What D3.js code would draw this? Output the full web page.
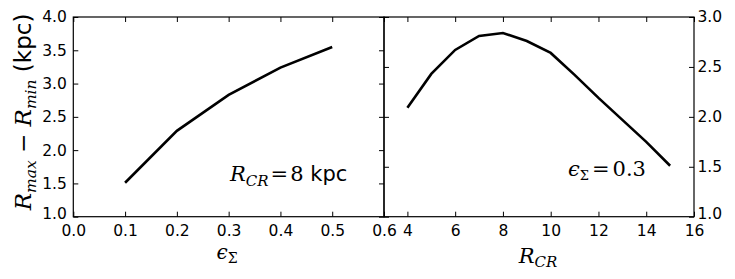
<!DOCTYPE html>
<html><head><meta charset="utf-8">
<script src="https://cdn.jsdelivr.net/npm/d3@7"></script>
<style>body{margin:0;background:#fff}</style>
</head><body>
<svg id="c" width="735" height="279"></svg>
<script>
const epsVals = [0.1, 0.2, 0.3, 0.4, 0.5];
const widthVsEps = [1.51, 2.29, 2.83, 3.24, 3.55];
const rcrVals = [4, 5, 6, 7, 8, 9, 10, 11, 12, 13, 14, 15];
const widthVsRcr = [2.09, 2.43, 2.67, 2.81, 2.84, 2.76, 2.64, 2.42, 2.19, 1.97, 1.75, 1.51];
const leftXTicks = [0.0, 0.1, 0.2, 0.3, 0.4, 0.5, 0.6];
const leftYTicks = [1.0, 1.5, 2.0, 2.5, 3.0, 3.5, 4.0];
const rightXTicks = [4, 6, 8, 10, 12, 14, 16];
const rightYTicks = [1.0, 1.5, 2.0, 2.5, 3.0];

const svg = d3.select("#c");
const plotTop = 17, plotBottom = 216.7;
const L = {x0: 73.3, x1: 384};
const R = {x0: 384, x1: 694};
const tickFont = "DejaVu Sans, sans-serif";
const serif = "DejaVu Serif, serif";

function panel(p, xd, yd, xs, ys, xticks, yticks, yside) {
  const x = d3.scaleLinear().domain(xd).range([p.x0, p.x1]);
  const y = d3.scaleLinear().domain(yd).range([plotBottom, plotTop]);
  const g = svg.append("g");
  const tl = 5;
  const ax = d3.axisBottom(x).tickValues(xticks).tickSizeInner(-tl).tickSizeOuter(0).tickPadding(8.5)
    .tickFormat(xs);
  const gx = g.append("g").attr("transform", `translate(0,${plotBottom})`).call(ax);
  const gt = g.append("g").attr("transform", `translate(0,${plotTop})`)
    .call(d3.axisTop(x).tickValues(xticks).tickSizeInner(-tl).tickSizeOuter(0).tickFormat(""));
  const yl = d3.axisLeft(y).tickValues(yticks).tickSizeInner(-tl).tickSizeOuter(0).tickPadding(6.5).tickFormat(yside === "left" ? ys : "");
  const yr = d3.axisRight(y).tickValues(yticks).tickSizeInner(-tl).tickSizeOuter(0).tickPadding(3.5).tickFormat(yside === "right" ? ys : "");
  const gl = g.append("g").attr("transform", `translate(${p.x0},0)`).call(yl);
  const gr = g.append("g").attr("transform", `translate(${p.x1},0)`).call(yr);
  [gx, gt, gl, gr].forEach(a => {
    a.select(".domain").remove();
    a.selectAll("line").attr("stroke", "#000").attr("stroke-width", 1);
    a.selectAll("text").attr("font-family", tickFont).attr("font-size", 15.5).attr("fill", "#000");
  });
  g.append("rect").attr("x", p.x0).attr("y", plotTop).attr("width", p.x1 - p.x0).attr("height", plotBottom - plotTop)
    .attr("fill", "none").attr("stroke", "#000").attr("stroke-width", 1.2);
  return {x, y, g, gx, gl, gr};
}

const lp = panel(L, [0, 0.6], [1, 4], d3.format(".1f"), d3.format(".1f"), leftXTicks, leftYTicks, "left");
const rp = panel(R, [3.02, 16], [1, 3], d3.format("d"), d3.format(".1f"), rightXTicks, rightYTicks, "right");

lp.gl.selectAll(".tick text").filter(d => d === 1.0).attr("dy", "0.1em");
rp.gr.selectAll(".tick text").filter(d => d === 1.0).attr("dy", "0.1em");

const line = (xs, ys) => d3.line().x(d => xs(d[0])).y(d => ys(d[1]));
svg.append("path").datum(epsVals.map((v, i) => [v, widthVsEps[i]]))
  .attr("d", line(lp.x, lp.y)).attr("fill", "none").attr("stroke", "#000").attr("stroke-width", 2.6);
svg.append("path").datum(rcrVals.map((v, i) => [v, widthVsRcr[i]]))
  .attr("d", line(rp.x, rp.y)).attr("fill", "none").attr("stroke", "#000").attr("stroke-width", 2.6);

const ylab = svg.append("text").attr("transform", "translate(31,112) rotate(-90)")
  .attr("text-anchor", "middle").attr("font-size", 23).attr("fill", "#000");
ylab.append("tspan").attr("font-family", serif).attr("font-style", "italic").text("R");
ylab.append("tspan").attr("font-family", serif).attr("font-style", "italic").attr("font-size", 15.5).attr("dy", 5).text("max");
ylab.append("tspan").attr("font-family", serif).attr("dy", -5).text(" − ");
ylab.append("tspan").attr("font-family", serif).attr("font-style", "italic").text("R");
ylab.append("tspan").attr("font-family", serif).attr("font-style", "italic").attr("font-size", 15.5).attr("dy", 5).text("min");
ylab.append("tspan").attr("font-family", tickFont).attr("dy", -5).text(" (kpc)");

const xl1 = svg.append("text").attr("x", 227).attr("y", 259).attr("text-anchor", "middle")
  .attr("font-family", serif).attr("font-size", 20).attr("fill", "#000");
xl1.append("tspan").attr("font-style", "italic").text("ϵ");
xl1.append("tspan").attr("font-size", 14).attr("dy", 4).text("Σ");

const xl2 = svg.append("text").attr("x", 538).attr("y", 263).attr("text-anchor", "middle")
  .attr("font-family", serif).attr("font-size", 21).attr("fill", "#000");
xl2.append("tspan").attr("font-style", "italic").text("R");
xl2.append("tspan").attr("font-style", "italic").attr("font-size", 15).attr("dy", 4).text("CR");

const a1 = svg.append("text").attr("x", 230).attr("y", 181).attr("font-size", 21).attr("fill", "#000");
a1.append("tspan").attr("font-family", serif).attr("font-style", "italic").text("R");
a1.append("tspan").attr("font-family", serif).attr("font-style", "italic").attr("font-size", 15).attr("dy", 5).text("CR");
a1.append("tspan").attr("font-family", serif).attr("dy", -5).attr("dx", 2).text("=");
a1.append("tspan").attr("font-family", serif).attr("dx", 2).text("8");
a1.append("tspan").attr("font-family", tickFont).attr("dx", 0).text(" kpc");

const a2 = svg.append("text").attr("x", 568).attr("y", 176).attr("font-size", 21).attr("fill", "#000").attr("font-family", serif);
a2.append("tspan").attr("font-style", "italic").text("ϵ");
a2.append("tspan").attr("font-size", 13).attr("dy", 4).text("Σ");
a2.append("tspan").attr("dy", -4).attr("dx", 3).text("=");
a2.append("tspan").attr("dx", 3).text("0.3");
</script>
</body></html>
